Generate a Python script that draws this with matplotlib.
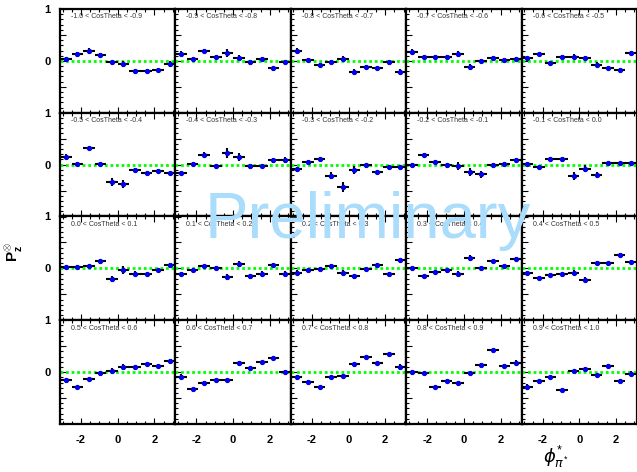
import numpy as np
import matplotlib
matplotlib.use("Agg")
import matplotlib.pyplot as plt
from matplotlib.ticker import MultipleLocator, FixedLocator

plt.rcParams["font.family"] = ["Liberation Sans", "DejaVu Sans"]
plt.rcParams["mathtext.fontset"] = "custom"
plt.rcParams["mathtext.rm"] = "Liberation Sans"
plt.rcParams["mathtext.bf"] = "Liberation Sans:bold"

# CosTheta slices (one panel each)
cos_lo = [-1.0, -0.9, -0.8, -0.7, -0.6, -0.5, -0.4, -0.3, -0.2, -0.1,
          0.0, 0.1, 0.2, 0.3, 0.4, 0.5, 0.6, 0.7, 0.8, 0.9]
cos_hi = [-0.9, -0.8, -0.7, -0.6, -0.5, -0.4, -0.3, -0.2, -0.1, 0.0,
          0.1, 0.2, 0.3, 0.4, 0.5, 0.6, 0.7, 0.8, 0.9, 1.0]

# phi* binning: 10 bins over [-pi, pi]
phi_edges = np.linspace(-np.pi, np.pi, 11)
phi_centers = 0.5 * (phi_edges[:-1] + phi_edges[1:])
phi_halfwidth = 0.5 * (phi_edges[1] - phi_edges[0])

# P_z values per slice, grouped by row of slices
pz_row1 = [
    [0.03, 0.13, 0.19, 0.11, -0.03, -0.06, -0.20, -0.20, -0.17, -0.06],
    [0.14, 0.04, 0.19, 0.07, 0.15, 0.06, -0.03, 0.03, -0.14, -0.02],
    [0.20, 0.01, -0.08, -0.02, 0.04, -0.21, -0.11, -0.13, -0.03, -0.21],
    [0.17, 0.07, 0.07, 0.08, 0.14, -0.12, -0.01, 0.05, 0.01, 0.04],
    [0.06, 0.13, -0.05, 0.07, 0.08, 0.05, -0.07, -0.14, -0.18, 0.15],
]
pz_row2 = [
    [0.15, 0.01, 0.32, 0.01, -0.33, -0.38, -0.11, -0.16, -0.13, -0.16],
    [-0.16, 0.02, 0.19, -0.03, 0.22, 0.15, -0.03, -0.03, 0.08, 0.09],
    [-0.09, 0.05, 0.11, -0.21, -0.43, -0.11, -0.01, -0.14, -0.04, -0.05],
    [-0.01, 0.18, 0.05, -0.01, -0.03, -0.14, -0.19, -0.01, 0.02, 0.08],
    [0.01, -0.05, 0.11, 0.10, -0.22, -0.08, -0.20, 0.03, 0.03, 0.03],
]
pz_row3 = [
    [0.03, 0.02, 0.05, 0.14, -0.20, -0.03, -0.10, -0.11, -0.03, 0.06],
    [-0.11, -0.04, 0.04, 0.01, -0.16, 0.08, -0.15, -0.10, 0.06, -0.10],
    [-0.08, -0.04, -0.01, 0.04, -0.08, -0.15, -0.02, 0.06, -0.11, 0.16],
    [0.00, -0.15, -0.07, -0.04, -0.10, 0.20, 0.00, 0.14, 0.04, 0.18],
    [-0.09, -0.18, -0.13, -0.11, -0.08, -0.22, 0.11, 0.10, 0.26, 0.12],
]
pz_row4 = [
    [-0.16, -0.29, -0.13, -0.01, 0.03, 0.10, 0.09, 0.16, 0.12, 0.22],
    [-0.09, -0.33, -0.21, -0.16, -0.15, 0.17, 0.08, 0.19, 0.28, 0.00],
    [-0.10, -0.19, -0.29, -0.09, -0.07, 0.16, 0.29, 0.17, 0.34, 0.10],
    [0.00, -0.02, -0.29, -0.17, -0.21, -0.02, 0.14, 0.42, 0.12, 0.18],
    [-0.28, -0.18, -0.10, -0.35, 0.03, 0.06, -0.06, 0.12, -0.17, -0.03],
]

# statistical uncertainties
err_row1 = [
    [0.05, 0.05, 0.05, 0.05, 0.05, 0.05, 0.05, 0.04, 0.04, 0.05],
    [0.05, 0.04, 0.04, 0.04, 0.07, 0.05, 0.05, 0.04, 0.05, 0.04],
    [0.05, 0.04, 0.04, 0.04, 0.05, 0.06, 0.04, 0.04, 0.04, 0.05],
    [0.05, 0.04, 0.04, 0.04, 0.06, 0.06, 0.04, 0.04, 0.04, 0.04],
    [0.04, 0.03, 0.04, 0.04, 0.05, 0.05, 0.04, 0.03, 0.03, 0.04],
]
err_row2 = [
    [0.05, 0.04, 0.04, 0.05, 0.08, 0.08, 0.05, 0.04, 0.04, 0.04],
    [0.04, 0.04, 0.05, 0.05, 0.10, 0.08, 0.05, 0.04, 0.04, 0.05],
    [0.05, 0.04, 0.04, 0.06, 0.10, 0.08, 0.05, 0.04, 0.04, 0.04],
    [0.04, 0.04, 0.04, 0.05, 0.08, 0.08, 0.06, 0.04, 0.04, 0.04],
    [0.04, 0.03, 0.04, 0.05, 0.07, 0.07, 0.06, 0.03, 0.03, 0.03],
]
err_row3 = [
    [0.04, 0.04, 0.04, 0.05, 0.06, 0.07, 0.04, 0.04, 0.03, 0.04],
    [0.04, 0.03, 0.03, 0.04, 0.06, 0.06, 0.05, 0.04, 0.04, 0.05],
    [0.04, 0.03, 0.03, 0.04, 0.05, 0.05, 0.04, 0.04, 0.04, 0.04],
    [0.04, 0.03, 0.04, 0.04, 0.05, 0.05, 0.04, 0.03, 0.03, 0.04],
    [0.04, 0.03, 0.03, 0.04, 0.05, 0.05, 0.04, 0.03, 0.03, 0.04],
]
err_row4 = [
    [0.04, 0.03, 0.03, 0.03, 0.04, 0.05, 0.04, 0.03, 0.03, 0.04],
    [0.05, 0.03, 0.03, 0.03, 0.03, 0.05, 0.04, 0.03, 0.03, 0.04],
    [0.05, 0.03, 0.03, 0.03, 0.03, 0.04, 0.04, 0.03, 0.03, 0.05],
    [0.05, 0.03, 0.03, 0.03, 0.04, 0.03, 0.04, 0.03, 0.03, 0.05],
    [0.06, 0.04, 0.03, 0.03, 0.03, 0.03, 0.03, 0.04, 0.04, 0.05],
]

pz_rows = [pz_row1, pz_row2, pz_row3, pz_row4]
err_rows = [err_row1, err_row2, err_row3, err_row4]

W, H = 637, 472
fig = plt.figure(figsize=(W / 100, H / 100), dpi=100)

nrows, ncols = 4, 5
left_px, right_px, top_px, bottom_px = 60, 637, 9, 424
pw = (right_px - left_px) / ncols
ph = (bottom_px - top_px) / nrows

for r in range(nrows):
    for c in range(ncols):
        k = r * ncols + c
        x0 = (left_px + c * pw) / W
        y0 = 1 - (top_px + (r + 1) * ph) / H
        ax = fig.add_axes([x0, y0, pw / W, ph / H])
        ax.set_xlim(-np.pi, np.pi)
        ax.set_ylim(-1, 1)

        ax.axhline(0, color="#00ff00", lw=2.0, ls=(0, (1, 1)), zorder=2)
        ax.errorbar(phi_centers, pz_rows[r][c], xerr=phi_halfwidth,
                    yerr=err_rows[r][c], fmt="o", ms=2.8, mfc="#0000ee",
                    mec="#0000ee", ecolor="black", elinewidth=1.5,
                    capsize=0, zorder=3)

        ax.text(11 / pw, 1 - 8 / ph,
                f"{cos_lo[k]:.1f} < CosTheta < {cos_hi[k]:.1f}",
                transform=ax.transAxes, fontsize=5.0, color="#333333",
                ha="left", va="center")

        for s in ax.spines.values():
            s.set_linewidth(1.6)

        ax.yaxis.set_major_locator(FixedLocator([-1, -0.5, 0, 0.5, 1]))
        ax.yaxis.set_minor_locator(MultipleLocator(0.1))
        ax.xaxis.set_major_locator(FixedLocator([-2, 0, 2]))
        ax.xaxis.set_minor_locator(MultipleLocator(0.5))
        ax.tick_params(which="both", direction="in", top=True, right=False,
                       width=0.8)
        ax.tick_params(which="major", length=4)
        ax.tick_params(which="minor", length=2)

        if c == 0:
            ax.set_yticklabels(["", "", "0", "", "1"], fontsize=8,
                               fontweight="bold")
            ax.tick_params(axis="y", pad=7)
        else:
            ax.set_yticklabels([])
        if r == nrows - 1:
            ax.set_xticklabels(["-2", "0", "2"], fontsize=8,
                               fontweight="bold")
            ax.tick_params(axis="x", pad=8)
        else:
            ax.set_xticklabels([])

fig.text(14 / W, 1 - 252 / H, r"$\mathbf{P}_{\mathbf{z}}^{\otimes}$",
         rotation=90, fontsize=11, ha="center", va="center")
fig.text(556 / W, 1 - 457 / H, r"$\phi^{*}_{\pi^{*}}$",
         fontsize=13, ha="center", va="center")

fig.text(368 / W, 1 - 238 / H, "Preliminary", fontsize=47,
         color="#aadcfc", ha="center", va="baseline", zorder=10)

fig.savefig("out.png", dpi=100)
